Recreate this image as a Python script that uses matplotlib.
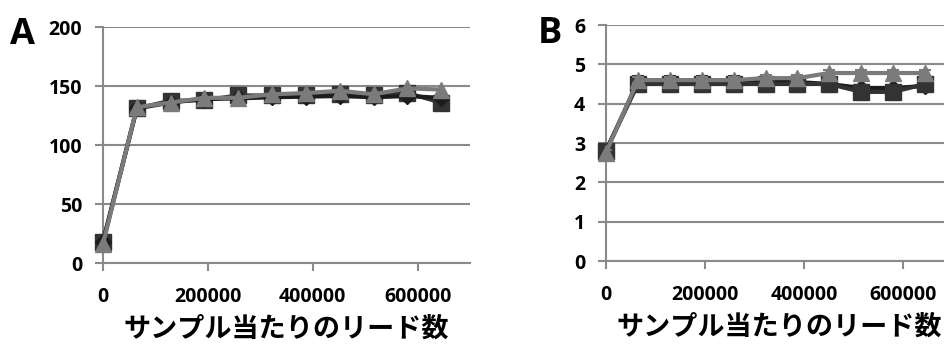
import numpy as np
import matplotlib.pyplot as plt

plt.rcParams['font.family'] = ['Open Sans', 'Noto Sans CJK JP', 'DejaVu Sans']

reads = [0, 64500, 129000, 193500, 258000, 322500, 387000, 451500, 516000, 580500, 645000]

# panel A
a_square   = [18, 131, 137.5, 138, 142, 142, 142, 143, 142, 144, 136]
a_diamond  = [18, 131, 136, 139, 139.5, 140.5, 141, 141.5, 140.5, 141.5, 140]
a_triangle = [16, 132, 136, 140, 140, 143, 144, 146, 143, 148, 147]

# panel B
b_square   = [2.8, 4.5, 4.5, 4.5, 4.5, 4.5, 4.5, 4.5, 4.3, 4.3, 4.5]
b_diamond  = [2.8, 4.55, 4.55, 4.55, 4.55, 4.55, 4.55, 4.5, 4.4, 4.4, 4.45]
b_triangle = [2.75, 4.6, 4.6, 4.6, 4.6, 4.65, 4.65, 4.78, 4.78, 4.78, 4.78]
b_err      = [0.05, 0.2, 0.2, 0.2, 0.2, 0.2, 0.2, 0.2, 0.15, 0.15, 0.15]

xlabel = 'サンプル当たりのリード数'
grid_c = '#8a8a8a'

fig = plt.figure(figsize=(9.44, 3.49), dpi=100)
fig.patch.set_facecolor('white')
axA = fig.add_axes([0.1091, 0.2464, 0.3888, 0.6762])
axB = fig.add_axes([0.6419, 0.2521, 0.3670, 0.6762])


def style(ax, ymax, ystep):
    ax.set_xlim(0, 700000)
    ax.set_ylim(0, ymax)
    ax.set_xticks([0, 200000, 400000, 600000])
    ax.set_yticks(np.arange(0, ymax + ystep / 2, ystep))
    ax.yaxis.grid(True, color=grid_c, linewidth=1.5)
    ax.set_axisbelow(True)
    for s in ['top', 'right']:
        ax.spines[s].set_visible(False)
    for s in ['left', 'bottom']:
        ax.spines[s].set_color(grid_c)
        ax.spines[s].set_linewidth(1.5)
    ax.tick_params(axis='both', colors=grid_c, length=6, width=1.5,
                   labelcolor='black', labelsize=14)
    ax.tick_params(axis='x', pad=11)
    ax.tick_params(axis='y', pad=9)
    for lab in ax.get_xticklabels() + ax.get_yticklabels():
        lab.set_fontweight('bold')
    ax.set_xlabel(xlabel, fontsize=19.5, fontweight='bold', labelpad=6,
                  family=['Noto Sans CJK JP', 'DejaVu Sans'])


# A
axA.plot(reads, a_square, color='#333333', lw=3, marker='s', ms=11, zorder=3, clip_on=False)
axA.plot(reads, a_diamond, color='#1c1c1c', lw=3, marker='D', ms=8, zorder=3, clip_on=False)
axA.plot(reads, a_triangle, color='#7b7b7b', lw=3, marker='^', ms=11, zorder=4, clip_on=False)
style(axA, 200, 50)

# B
sq = axB.errorbar(reads, b_square, yerr=b_err, color='#333333', lw=3, marker='s',
                  ms=11, capsize=4, elinewidth=1.2, capthick=1.5, zorder=3)
axB.plot(reads, b_diamond, color='#1c1c1c', lw=3, marker='D', ms=8, zorder=3, clip_on=False)
tr = axB.errorbar(reads, b_triangle, yerr=0.08, color='#7b7b7b', lw=3, marker='^',
                  ms=11, capsize=4, elinewidth=1.2, capthick=1.5, zorder=4)
for cont in (sq, tr):
    cont.lines[0].set_clip_on(False)
style(axB, 6, 1)

fig.text(10 / 944, 1 - 44 / 349, 'A', fontsize=26, fontweight='bold')
fig.text(538 / 944, 1 - 43 / 349, 'B', fontsize=26, fontweight='bold')

fig.savefig('out.png', dpi=100, facecolor='white')
